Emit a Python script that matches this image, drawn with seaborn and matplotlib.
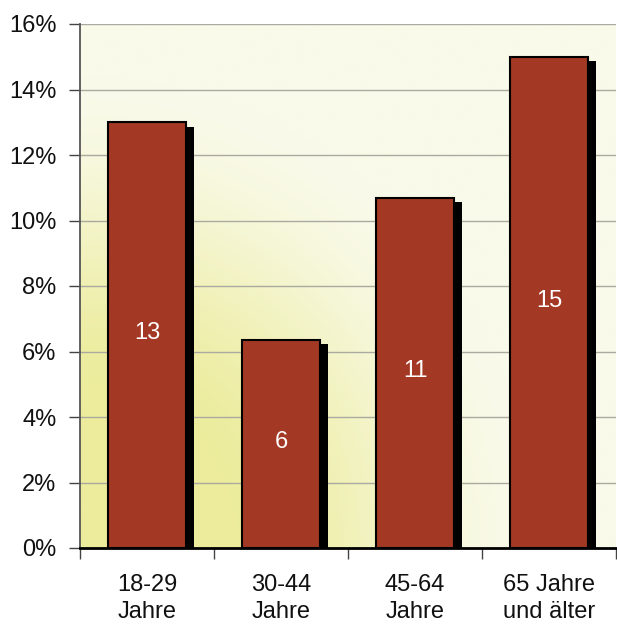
import numpy as np
import pandas as pd
import matplotlib
matplotlib.use("Agg")
import matplotlib.pyplot as plt
import seaborn as sns

# Anteil je Altersgruppe (in Prozent)
gruppen = ["18-29\nJahre", "30-44\nJahre", "45-64\nJahre", "65 Jahre\nund älter"]
werte = [13.0, 6.35, 10.7, 15.0]
beschriftung = ["13", "6", "11", "15"]
y_ticks = [0, 2, 4, 6, 8, 10, 12, 14, 16]

df = pd.DataFrame({"gruppe": gruppen, "wert": werte})

sns.set_theme(style="white")
plt.rcParams["font.family"] = ["Liberation Sans", "DejaVu Sans"]

fig = plt.figure(figsize=(6.17, 6.25), dpi=100)
ax = fig.add_axes([0.1297, 0.1232, 0.8687, 0.8384])

# Hintergrundverlauf: gelblich unten links, fast weiß oben rechts
nx, ny = 300, 300
gx, gy = np.meshgrid(np.linspace(0, 1, nx), np.linspace(0, 1, ny))
r = np.sqrt((gx / 0.85) ** 2 + (gy / 0.9) ** 2)
s = np.clip((r - 0.3) / 0.7, 0, 1)
t = s * s * (3 - 2 * s)
c0 = np.array([236, 236, 156]) / 255
c1 = np.array([249, 250, 233]) / 255
img = c0[None, None, :] * (1 - t[..., None]) + c1[None, None, :] * t[..., None]
ax.imshow(img, extent=[-0.5, 3.5, 0, 16], origin="lower", aspect="auto", zorder=-2)

# Schattenbalken (schwarz, leicht nach rechts unten versetzt)
sns.barplot(data=df, x="gruppe", y="wert", color="black", width=0.58,
            saturation=1, ax=ax, zorder=1)
for p in ax.patches:
    p.set_x(p.get_x() + 0.058)
    p.set_height(p.get_height() - 0.13)
    p.set_linewidth(0)
n_shadow = len(ax.patches)

# Hauptbalken
sns.barplot(data=df, x="gruppe", y="wert", color="#A33924", width=0.58,
            saturation=1, ax=ax, zorder=2, edgecolor="black", linewidth=1.5)

# Werte in den Balken
for p, txt in zip(ax.patches[n_shadow:], beschriftung):
    ax.text(p.get_x() + p.get_width() / 2, p.get_height() / 2 + 0.05, txt,
            ha="center", va="center", color="white", fontsize=17, zorder=3)

ax.set_xlim(-0.5, 3.5)
ax.set_ylim(0, 16)
ax.set_yticks(y_ticks)
ax.set_yticklabels([f"{v}%" for v in y_ticks], fontsize=17)
ax.set_xticks(np.arange(-0.5, 4.0, 1.0))
ax.set_xticklabels([])
ax.set_xticks(np.arange(len(gruppen)), minor=True)
ax.set_xticklabels(gruppen, minor=True, fontsize=17, linespacing=1.3)
ax.set_xlabel("")
ax.set_ylabel("")

ax.tick_params(axis="y", which="major", direction="out", length=8, width=1,
               color="#444444", pad=9, left=True, labelcolor="#111111")
ax.tick_params(axis="x", which="major", direction="out", length=8, width=1,
               color="#444444", bottom=True)
ax.tick_params(axis="x", which="minor", length=0, pad=19, labelcolor="#111111")

ax.grid(axis="y", color="#aaaaa0", linewidth=1)
ax.set_axisbelow(True)
ax.spines["right"].set_visible(False)
ax.spines["top"].set_visible(False)
ax.spines["left"].set_color("#555555")
ax.spines["left"].set_linewidth(1.3)
ax.spines["bottom"].set_color("black")
ax.spines["bottom"].set_linewidth(2)
ax.spines["bottom"].set_zorder(4)

fig.savefig("out.png", dpi=100)
